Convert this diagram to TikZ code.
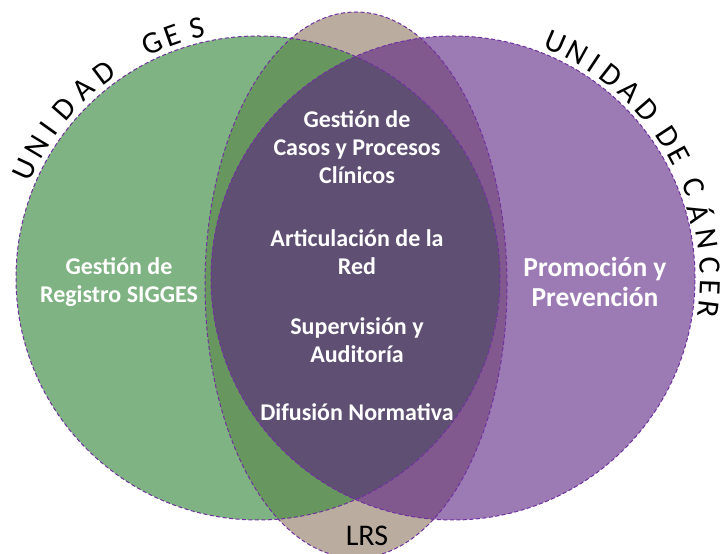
\documentclass[tikz,border=0pt]{standalone}
\usepackage{fontspec}
\setmainfont{Carlito}

\definecolor{gesgreen}{HTML}{80B383}
\definecolor{gesdark}{HTML}{67975F}
\definecolor{lrsbrown}{HTML}{BAADA0}
\definecolor{canpurple}{HTML}{9C7BB4}
\definecolor{canmid}{HTML}{82598F}
\definecolor{core}{HTML}{5F5073}
\definecolor{rim}{HTML}{7030A0}

\tikzset{
  rimline/.style={draw=rim,line width=1pt,dash pattern=on 4pt off 2.5pt},
  inner/.style={text=white,align=center,font=\bfseries\fontsize{24}{28}\selectfont},
  arcletter/.style={font=\fontsize{31}{31}\selectfont,inner sep=0pt}
}

\begin{document}
\begin{tikzpicture}[x=1pt,y=1pt]

\useasboundingbox (0,0) rectangle (720,554);

\coordinate (gc) at (258,276);
\coordinate (pc) at (453,276);
\coordinate (lc) at (356,269);

\fill[lrsbrown] (lc) ellipse [x radius=151,y radius=273];
\fill[gesgreen] (gc) circle (242);
\fill[canpurple] (pc) circle (242);
\begin{scope}
  \clip (gc) circle (242);
  \fill[gesdark] (lc) ellipse [x radius=151,y radius=273];
  \clip (pc) circle (242);
  \fill[core] (pc) circle (242);
\end{scope}
\begin{scope}
  \clip (pc) circle (242);
  \fill[canmid] (lc) ellipse [x radius=151,y radius=273];
  \clip (gc) circle (242);
  \fill[core] (gc) circle (242);
\end{scope}

\path[rimline] (lc) ellipse [x radius=151,y radius=273];
\path[rimline] (gc) circle (242);
\path[rimline] (pc) circle (242);

\node[inner] (casos) at (357,407) {Gestión de\\Casos y Procesos\\Clínicos};
\node[inner] (red) at (357,302) {Articulación de la\\Red};
\node[inner] (audit) at (357,214) {Supervisión y\\Auditoría};
\node[inner] (difu) at (357,142) {Difusión Normativa};

\node[inner] (sigges) at (119,272) {Gestión de\\Registro SIGGES};
\node[inner,font=\bfseries\fontsize{27.5}{30}\selectfont] (promo) at (595,272) {Promoción y\\Prevención};

\node[font=\fontsize{30}{30}\selectfont] (lrs) at (367,18) {LRS};

\foreach \ang/\ch [count=\i] in {155.1/U,149.2/N,144.5/I,138.9/D,132.8/A,126.9/D,114.3/G,109.4/E,103.8/S}
  \node[arcletter,rotate=\ang-90] (ges\i) at ([shift={(\ang:257)}]gc) {\ch};

\foreach \ang/\ch [count=\i] in {66.6/U,61.2/N,56.6/I,51.9/D,46.6/A,40.9/D,33.3/D,28.4/E,20.8/C,14.7/Á,8.8/N,2.8/C,-2.2/E,-7/R}
  \node[arcletter,rotate=\ang-90] (can\i) at ([shift={(\ang:257)}]pc) {\ch};

\end{tikzpicture}
\end{document}
